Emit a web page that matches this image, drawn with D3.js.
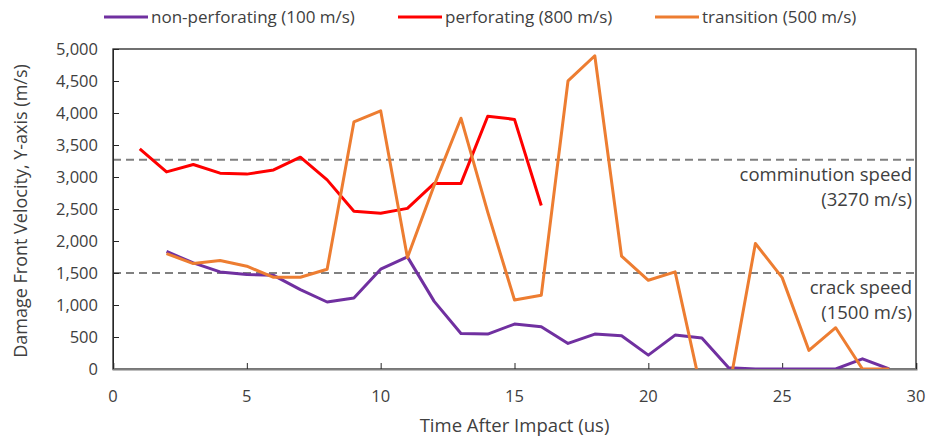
<!DOCTYPE html>
<html>
<head>
<meta charset="utf-8">
<script src="https://cdn.jsdelivr.net/npm/d3@7"></script>
<style>
body { margin: 0; background: #fff; }
text { font-family: "Liberation Sans Narrow", "Open Sans", sans-serif; fill: #404040; }
</style>
</head>
<body>
<svg id="chart" width="930" height="439"></svg>
<script>
// time after impact (us)
const times = d3.range(1, 30);
// values, null = no point
const perforating = [3440, 3080, 3195, 3060, 3045, 3110, 3310, 2955, 2465, 2435, 2510, 2900, 2900, 3950, 3900, 2555];
const nonPerforating = [null, 1836, 1658, 1517, 1475, 1464, 1240, 1047, 1110, 1559, 1752, 1057, 556, 546, 702, 661, 400, 546, 520, 217, 530, 483, 20, 0, 0, 0, 0, 159, 0];
const transition = [null, 1804, 1647, 1694, 1606, 1433, 1433, 1559, 3861, 4034, 1741, 2870, 3919, 2450, 1078, 1151, 4503, 4895, 1762, 1386, 1517, -380, -350, 1961, 1428, 290, 645, 0, 0];
const yTicks = [0, 500, 1000, 1500, 2000, 2500, 3000, 3500, 4000, 4500, 5000];
const xTicks = [0, 5, 10, 15, 20, 25, 30];
const refLines = [
    {value: 3270, label: ["comminution speed", "(3270 m/s)"]},
    {value: 1500, label: ["crack speed", "(1500 m/s)"]}
];
const series = [
    {name: "non-perforating (100 m/s)", color: "#7030A0", values: nonPerforating},
    {name: "perforating (800 m/s)", color: "#FF0000", values: perforating},
    {name: "transition (500 m/s)", color: "#ED7D31", values: transition}
];

const margin = {left: 113, right: 14, top: 49, bottom: 70};
const W = 930, H = 439;
const svg = d3.select("#chart");

let x = d3.scaleLinear().domain([0, 30]).range([margin.left, W - margin.right]);
let y = d3.scaleLinear().domain([0, 5000]).range([H - margin.bottom, margin.top]);

svg.append("defs").append("clipPath").attr("id", "plotclip")
    .append("rect")
    .attr("x", x(0)).attr("y", y(5000))
    .attr("width", x(30) - x(0)).attr("height", y(0) - y(5000));

// plot frame
svg.append("rect")
    .attr("x", x(0)).attr("y", y(5000))
    .attr("width", x(30) - x(0)).attr("height", y(0) - y(5000))
    .attr("fill", "none").attr("stroke", "#262626").attr("stroke-width", 1.3);

// reference lines
refLines.forEach(function(r) {
    svg.append("line")
        .attr("x1", x(0)).attr("x2", x(30))
        .attr("y1", y(r.value)).attr("y2", y(r.value))
        .attr("stroke", "#808080").attr("stroke-width", 2)
        .attr("stroke-dasharray", "8,5");
    r.label.forEach(function(t, i) {
        svg.append("text")
            .attr("x", x(30) - 4)
            .attr("y", y(r.value) + 21 + i * 25)
            .attr("text-anchor", "end")
            .style("font-size", "18.5px")
            .text(t);
    });
});

// axes, ticks point inward
let yAxis = svg.append("g")
    .attr("transform", "translate(" + x(0) + ",0)")
    .call(d3.axisRight(y).tickValues(yTicks).tickSize(6).tickFormat(""));
yAxis.select(".domain").attr("stroke", "#262626");
yAxis.selectAll(".tick line").attr("stroke", "#262626");

let xAxis = svg.append("g")
    .attr("transform", "translate(0," + y(0) + ")")
    .call(d3.axisTop(x).tickValues(xTicks).tickSize(6).tickFormat(""));
xAxis.select(".domain").attr("stroke", "#7f7f7f").attr("stroke-width", 2);
xAxis.selectAll(".tick line").attr("stroke", "#262626");

svg.selectAll(".ylab").data(yTicks).enter().append("text")
    .attr("class", "ylab")
    .attr("x", x(0) - 15)
    .attr("y", d => y(d) + 6)
    .attr("text-anchor", "end")
    .style("font-size", "16.5px")
    .text(d => d3.format(",")(d));

svg.selectAll(".xlab").data(xTicks).enter().append("text")
    .attr("class", "xlab")
    .attr("x", d => x(d))
    .attr("y", y(0) + 33)
    .attr("text-anchor", "middle")
    .style("font-size", "16.5px")
    .text(d => d);

svg.append("text")
    .attr("x", (x(0) + x(30)) / 2)
    .attr("y", 432)
    .attr("text-anchor", "middle")
    .style("font-size", "18.5px")
    .text("Time After Impact (us)");

svg.append("text")
    .attr("transform", "translate(27," + ((y(0) + y(5000)) / 2 + 2) + ") rotate(-90)")
    .attr("text-anchor", "middle")
    .style("font-size", "18px")
    .text("Damage Front Velocity, Y-axis (m/s)");

// series lines
let line = d3.line()
    .defined(d => d.v !== null)
    .x(d => x(d.t))
    .y(d => y(d.v));

let plot = svg.append("g").attr("clip-path", "url(#plotclip)");
// draw order: purple, red, orange on top
series.forEach(function(s) {
    let pts = s.values.map((v, i) => ({t: times[i], v: v}));
    plot.append("path")
        .datum(pts)
        .attr("d", line)
        .attr("fill", "none")
        .attr("stroke", s.color)
        .attr("stroke-width", 3)
        .attr("stroke-linejoin", "round");
});

// legend
const legendX = [104, 398, 655];
series.forEach(function(s, i) {
    svg.append("line")
        .attr("x1", legendX[i]).attr("x2", legendX[i] + 44)
        .attr("y1", 17).attr("y2", 17)
        .attr("stroke", s.color).attr("stroke-width", 3);
    svg.append("text")
        .attr("x", legendX[i] + 47)
        .attr("y", 23)
        .style("font-size", "17px")
        .text(s.name);
});
</script>
</body>
</html>
